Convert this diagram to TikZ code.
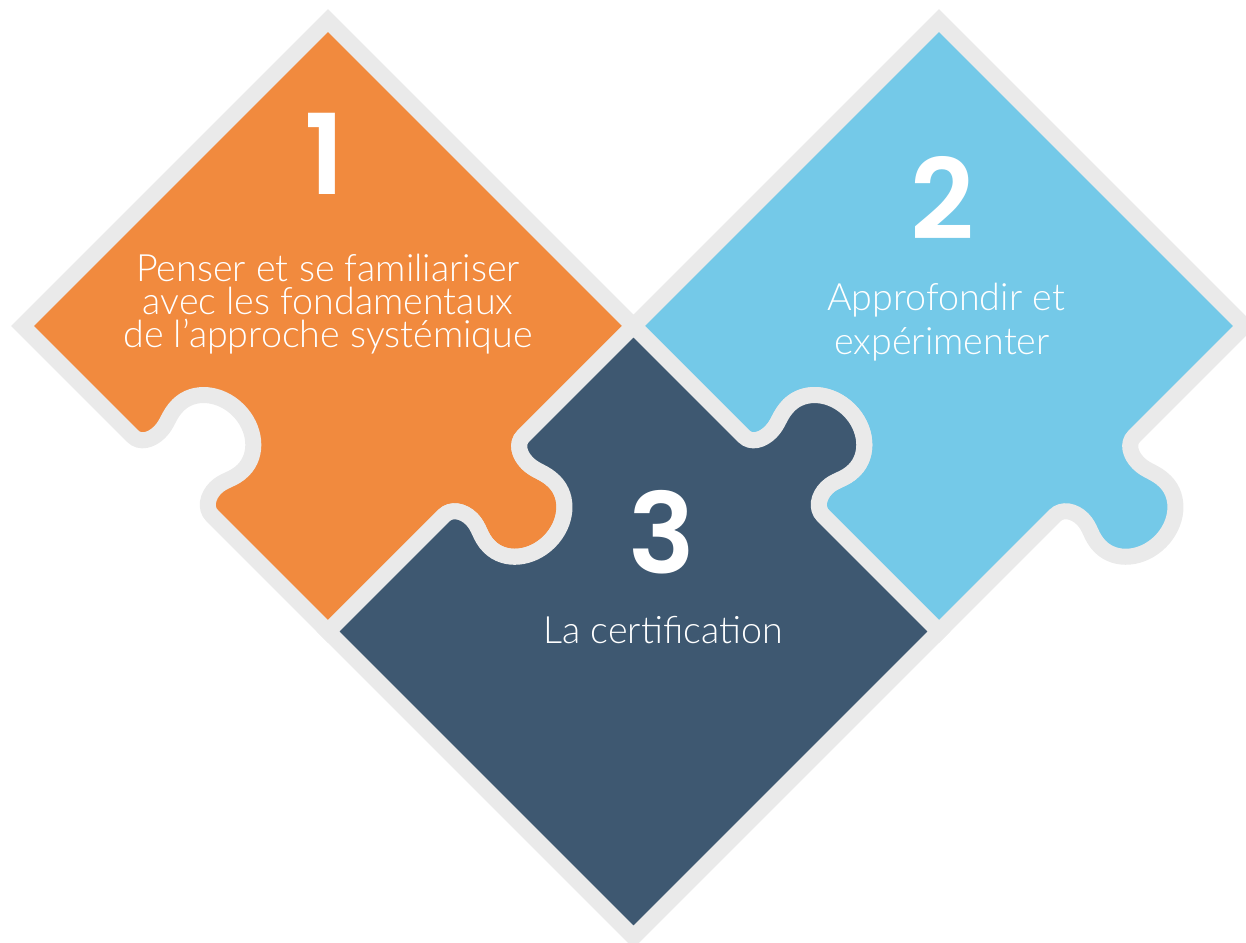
\documentclass[tikz,border=0pt]{standalone}
\usepackage{fontspec}
\usepackage{tikz}
\newfontfamily\lightfont{Lato Light}
\IfFontExistsTF{Poppins SemiBold}
    {\newfontfamily\numfont{Poppins SemiBold}}
    {\newfontfamily\numfont{Poppins}[UprightFont=*,BoldFont=*]}

\definecolor{puzzleorange}{RGB}{241,138,62}
\definecolor{puzzleblue}{RGB}{116,201,232}
\definecolor{puzzlenavy}{RGB}{62,88,113}
\definecolor{puzzleedge}{RGB}{234,234,234}

\tikzstyle{piece}=[draw=puzzleedge,line width=1.6mm,line join=miter]
\tikzstyle{num}=[text=white,inner sep=0,font=\numfont\fontsize{31.7}{32}\selectfont]
\tikzstyle{txt}=[text=white,inner sep=0,anchor=base,font=\lightfont\fontsize{10.7}{12}\selectfont]

% half side of one square piece
\newcommand{\hs}{216}

% tab on the lower right side, hole on the lower left side
\newcommand{\pieceOut}{%
  (-\hs,-\hs) -- (-52,-\hs)
  .. controls (-42,-\hs) and (-35,-\hs-10) .. (-35,-\hs-22)
  .. controls (-35,-\hs-34) and (-42,-\hs-40) .. (-42,-\hs-54)
  .. controls (-42,-\hs-76) and (-21,-\hs-93) .. (4,-\hs-93)
  .. controls (29,-\hs-93) and (50,-\hs-76) .. (50,-\hs-54)
  .. controls (50,-\hs-40) and (44,-\hs-34) .. (44,-\hs-22)
  .. controls (44,-\hs-10) and (50,-\hs) .. (60,-\hs)
  -- (\hs,-\hs) -- (\hs,\hs) -- (-\hs,\hs) -- (-\hs,60)
  .. controls (-\hs,50) and (-\hs+10,44) .. (-\hs+22,44)
  .. controls (-\hs+34,44) and (-\hs+40,50) .. (-\hs+54,50)
  .. controls (-\hs+76,50) and (-\hs+93,29) .. (-\hs+93,4)
  .. controls (-\hs+93,-21) and (-\hs+76,-42) .. (-\hs+54,-42)
  .. controls (-\hs+40,-42) and (-\hs+34,-35) .. (-\hs+22,-35)
  .. controls (-\hs+10,-35) and (-\hs,-42) .. (-\hs,-52)
  -- cycle}

% tab on the upper right side, hole on the upper left side
\newcommand{\pieceMid}{%
  (-\hs,-\hs) -- (\hs,-\hs) -- (\hs,-52)
  .. controls (\hs,-42) and (\hs+10,-35) .. (\hs+22,-35)
  .. controls (\hs+34,-35) and (\hs+40,-42) .. (\hs+54,-42)
  .. controls (\hs+76,-42) and (\hs+93,-21) .. (\hs+93,4)
  .. controls (\hs+93,29) and (\hs+76,50) .. (\hs+54,50)
  .. controls (\hs+40,50) and (\hs+34,44) .. (\hs+22,44)
  .. controls (\hs+10,44) and (\hs,50) .. (\hs,60)
  -- (\hs,\hs) -- (60,\hs)
  .. controls (50,\hs) and (44,\hs-10) .. (44,\hs-22)
  .. controls (44,\hs-34) and (50,\hs-40) .. (50,\hs-54)
  .. controls (50,\hs-76) and (29,\hs-93) .. (4,\hs-93)
  .. controls (-21,\hs-93) and (-42,\hs-76) .. (-42,\hs-54)
  .. controls (-42,\hs-40) and (-35,\hs-34) .. (-35,\hs-22)
  .. controls (-35,\hs-10) and (-42,\hs) .. (-52,\hs)
  -- (-\hs,\hs) -- cycle}

\begin{document}
\begin{tikzpicture}[x=0.01cm,y=0.01cm]
    \useasboundingbox (0,0) rectangle (1246,943);

    % the three pieces
    \begin{scope}[shift={(328,617)},rotate=45]
        \draw[piece,fill=puzzleorange] \pieceOut;
    \end{scope}
    \begin{scope}[shift={(939,617)},rotate=45]
        \draw[piece,fill=puzzleblue] \pieceOut;
    \end{scope}
    \begin{scope}[shift={(633.5,311.5)},rotate=45]
        \draw[piece,fill=puzzlenavy] \pieceMid;
    \end{scope}

    % numbers
    \node[num] (one) at (325,789) {1};
    \node[num] (two) at (942,745) {2};
    \node[num] (three) at (662,411) {3};

    % texts
    \node[txt] (onea) at (328,661) {Penser et se familiariser};
    \node[txt] (oneb) at (328,628) {avec les fondamentaux};
    \node[txt] (onec) at (328,595) {de l’approche systémique};

    \node[txt] (twoa) at (946,632) {Approfondir et};
    \node[txt] (twob) at (942,588) {expérimenter};

    \node[txt] (threea) at (663,299) {La certification};

\end{tikzpicture}
\end{document}
